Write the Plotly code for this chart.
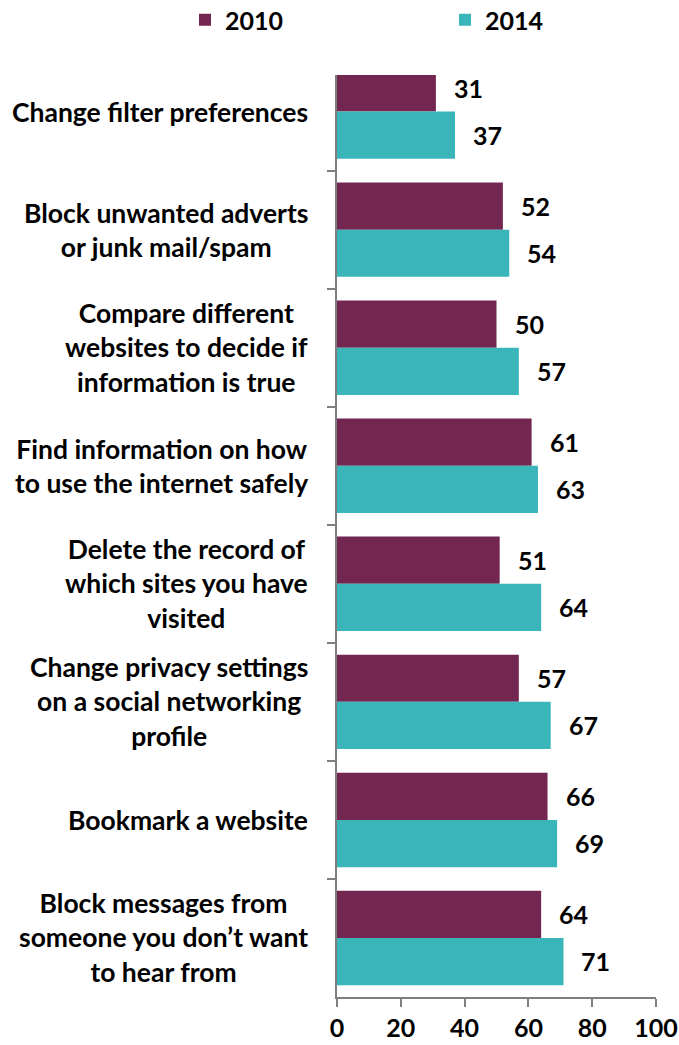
import plotly.graph_objects as go

categories = [
    "Change filter preferences",
    "Block unwanted adverts<br>or junk mail/spam",
    "Compare different<br>websites to decide if<br>information is true",
    "Find information on how<br>to use the internet safely",
    "Delete the record of<br>which sites you have<br>visited",
    "Change privacy settings<br>on a social networking<br>profile",
    "Bookmark a website",
    "Block messages from<br>someone you don\u2019t want<br>to hear from",
]
values_2010 = [31, 52, 50, 61, 51, 57, 66, 64]
values_2014 = [37, 54, 57, 63, 64, 67, 69, 71]
x_ticks = [0, 20, 40, 60, 80, 100]

C2010 = "#722650"
C2014 = "#3AB5B9"
FONT = "Lato"

fig = go.Figure()
fig.add_trace(go.Bar(y=categories, x=values_2010, orientation="h", name="2010",
                     marker=dict(color=C2010, line=dict(width=0)), legend="legend"))
fig.add_trace(go.Bar(y=categories, x=values_2014, orientation="h", name="2014",
                     marker=dict(color=C2014, line=dict(width=0)), legend="legend2"))

ann = []
for c, v in zip(categories, values_2010):
    ann.append(dict(x=v, y=c, xref="x", yref="y", text=f"<b>{v}</b>", showarrow=False,
                    xanchor="left", yanchor="middle", xshift=16, yshift=23.5,
                    font=dict(family=FONT, size=25, color="black")))
for c, v in zip(categories, values_2014):
    ann.append(dict(x=v, y=c, xref="x", yref="y", text=f"<b>{v}</b>", showarrow=False,
                    xanchor="left", yanchor="middle", xshift=16, yshift=-23.5,
                    font=dict(family=FONT, size=25, color="black")))
for c in categories:
    ann.append(dict(x=0, y=c, xref="x", yref="y", text=f"<b>{c}</b>", showarrow=False,
                    xanchor="right", yanchor="middle", xshift=-27, align="center",
                    font=dict(family=FONT, size=26.5, color="black")))

legend_common = dict(orientation="h", xref="container", yref="container",
                     xanchor="left", yanchor="middle", y=1 - 20 / 1045,
                     bgcolor="rgba(0,0,0,0)", borderwidth=0,
                     font=dict(family=FONT, size=25, color="black", weight="bold"))

fig.update_layout(
    width=679, height=1045,
    margin=dict(l=337, r=23, t=75, b=48, autoexpand=False),
    paper_bgcolor="white", plot_bgcolor="white",
    barmode="group", bargap=0.2, bargroupgap=0,
    font=dict(family=FONT, color="black"),
    showlegend=True,
    legend=dict(x=185 / 679, **legend_common),
    legend2=dict(x=445 / 679, **legend_common),
    annotations=ann,
)
fig.update_xaxes(range=[0, 100], tickvals=x_ticks, ticktext=[f"<b>{t}</b>" for t in x_ticks],
                 showgrid=False, zeroline=False, showline=True, linecolor="#7f7f7f",
                 linewidth=1.5, ticks="outside", ticklen=8, tickcolor="#7f7f7f", tickwidth=1.5,
                 tickfont=dict(family=FONT, size=25, color="black"), automargin=False)
fig.update_yaxes(range=[7.5, -0.31], showticklabels=False, showgrid=False, zeroline=False,
                 showline=True, linecolor="#7f7f7f", linewidth=1.5, ticks="outside",
                 tickson="boundaries", ticklen=8, tickcolor="#7f7f7f", tickwidth=1.5,
                 automargin=False)

fig.write_html("out.html", config={"displayModeBar": False},
               post_script="document.body.style.margin='0';document.body.style.padding='0';")
